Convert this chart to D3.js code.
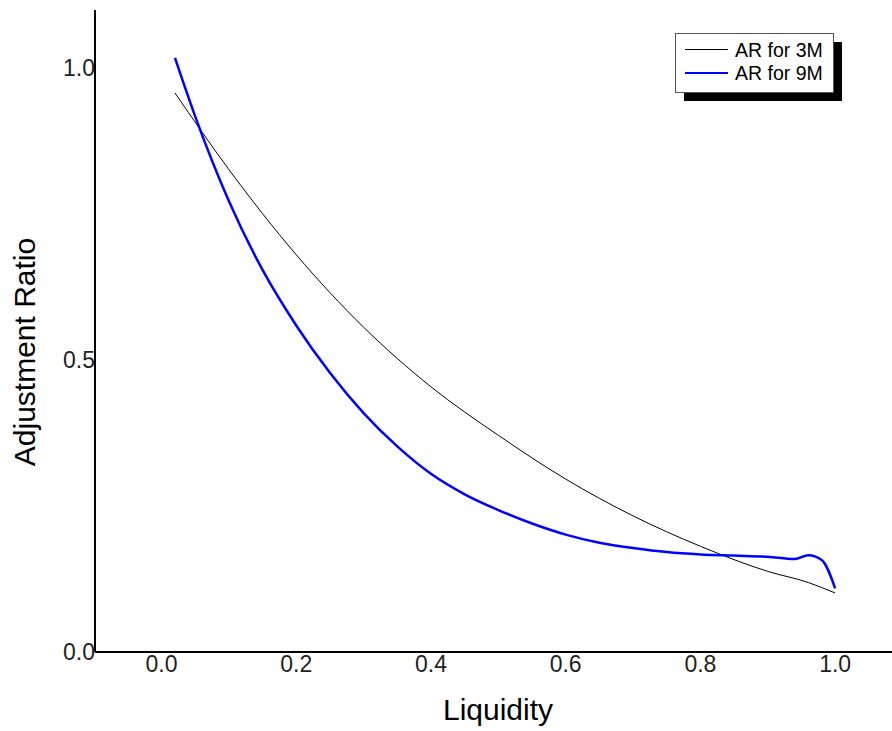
<!DOCTYPE html>
<html>
<head>
<meta charset="utf-8">
<script src="https://cdn.jsdelivr.net/npm/d3@7"></script>
<style>
  body { margin: 0; background: #fff; }
  svg { display: block; font-family: "Liberation Sans", Arial, sans-serif; }
</style>
</head>
<body>
<div id="chart"></div>
<script>
// values
const liquidity3M = [0.02, 0.10, 0.20, 0.30, 0.40, 0.50, 0.60, 0.70, 0.80, 0.90, 0.96, 1.00];
const ar3M = [0.957, 0.826, 0.680, 0.556, 0.454, 0.371, 0.296, 0.233, 0.181, 0.138, 0.119, 0.101];

const liquidity9M = [0.02, 0.05, 0.10, 0.15, 0.20, 0.25, 0.30, 0.35, 0.40, 0.45, 0.50, 0.55, 0.60, 0.65, 0.70, 0.75, 0.80, 0.85, 0.90, 0.94, 0.96, 0.98, 1.00];
const ar9M = [1.017, 0.917, 0.772, 0.654, 0.559, 0.478, 0.409, 0.352, 0.305, 0.270, 0.243, 0.220, 0.201, 0.187, 0.178, 0.171, 0.167, 0.165, 0.163, 0.159, 0.1655, 0.1575, 0.109];

const xTicks = [0.0, 0.2, 0.4, 0.6, 0.8, 1.0];
const yTicks = [0.0, 0.5, 1.0];

const seriesNames = ["AR for 3M", "AR for 9M"];
const seriesColors = ["#000000", "#0000ff"];
const seriesWidths = [1, 2.5];

const W = 892, H = 731;

const svg = d3.select("#chart")
  .append("svg")
  .attr("width", W)
  .attr("height", H);

// axis lines sit at px 95 (y axis) and 652 (x axis)
const x = d3.scaleLinear().domain([-0.0987, 1.0844]).range([95, 892]);
const y = d3.scaleLinear().domain([0, 1.099]).range([652, 10]);

// axes
svg.append("line")
  .attr("x1", x.range()[0]).attr("x2", x.range()[1])
  .attr("y1", y(0)).attr("y2", y(0))
  .attr("stroke", "#000").attr("stroke-width", 2);

svg.append("line")
  .attr("x1", x.range()[0]).attr("x2", x.range()[0])
  .attr("y1", y.range()[0]).attr("y2", y.range()[1])
  .attr("stroke", "#000").attr("stroke-width", 2);

// tick labels
svg.selectAll(".x-tick")
  .data(xTicks)
  .enter()
  .append("text")
  .attr("class", "x-tick")
  .attr("x", d => x(d))
  .attr("y", y(0) + 20)
  .attr("text-anchor", "middle")
  .style("font-size", "23px")
  .style("fill", "#222")
  .text(d => d.toFixed(1));

svg.selectAll(".y-tick")
  .data(yTicks)
  .enter()
  .append("text")
  .attr("class", "y-tick")
  .attr("x", x.range()[0])
  .attr("y", d => y(d) + 8)
  .attr("text-anchor", "end")
  .style("font-size", "23px")
  .style("fill", "#222")
  .text(d => d.toFixed(1));

// axis titles
svg.append("text")
  .attr("x", 498)
  .attr("y", 720)
  .attr("text-anchor", "middle")
  .style("font-size", "30px")
  .style("fill", "#000")
  .text("Liquidity");

svg.append("text")
  .attr("transform", "translate(35,352) rotate(-90)")
  .attr("text-anchor", "middle")
  .style("font-size", "30px")
  .style("fill", "#000")
  .text("Adjustment Ratio");

// lines
const series = [
  liquidity3M.map((v, i) => [v, ar3M[i]]),
  liquidity9M.map((v, i) => [v, ar9M[i]])
];

const line = d3.line()
  .x(d => x(d[0]))
  .y(d => y(d[1]))
  .curve(d3.curveMonotoneX);

svg.selectAll(".series")
  .data(series)
  .enter()
  .append("path")
  .attr("class", "series")
  .attr("d", line)
  .attr("fill", "none")
  .attr("stroke", (d, i) => seriesColors[i])
  .attr("stroke-width", (d, i) => seriesWidths[i]);

// legend with drop shadow
const legend = svg.append("g").attr("transform", "translate(675,33)");
const boxW = 158, boxH = 59;

legend.append("rect")
  .attr("x", 9).attr("y", 9)
  .attr("width", boxW).attr("height", boxH)
  .attr("fill", "#000");

legend.append("rect")
  .attr("x", 0.5).attr("y", 0.5)
  .attr("width", boxW).attr("height", boxH)
  .attr("fill", "#fff")
  .attr("stroke", "#555")
  .attr("stroke-width", 1);

seriesNames.forEach((name, i) => {
  const rowY = 16.5 + i * 23.4;
  legend.append("line")
    .attr("x1", 10).attr("x2", 53)
    .attr("y1", rowY).attr("y2", rowY)
    .attr("stroke", seriesColors[i])
    .attr("stroke-width", i === 0 ? 1 : 2);
  legend.append("text")
    .attr("x", 60)
    .attr("y", rowY + 7.5)
    .style("font-size", "19.5px")
    .style("fill", "#000")
    .text(name);
});
</script>
</body>
</html>
